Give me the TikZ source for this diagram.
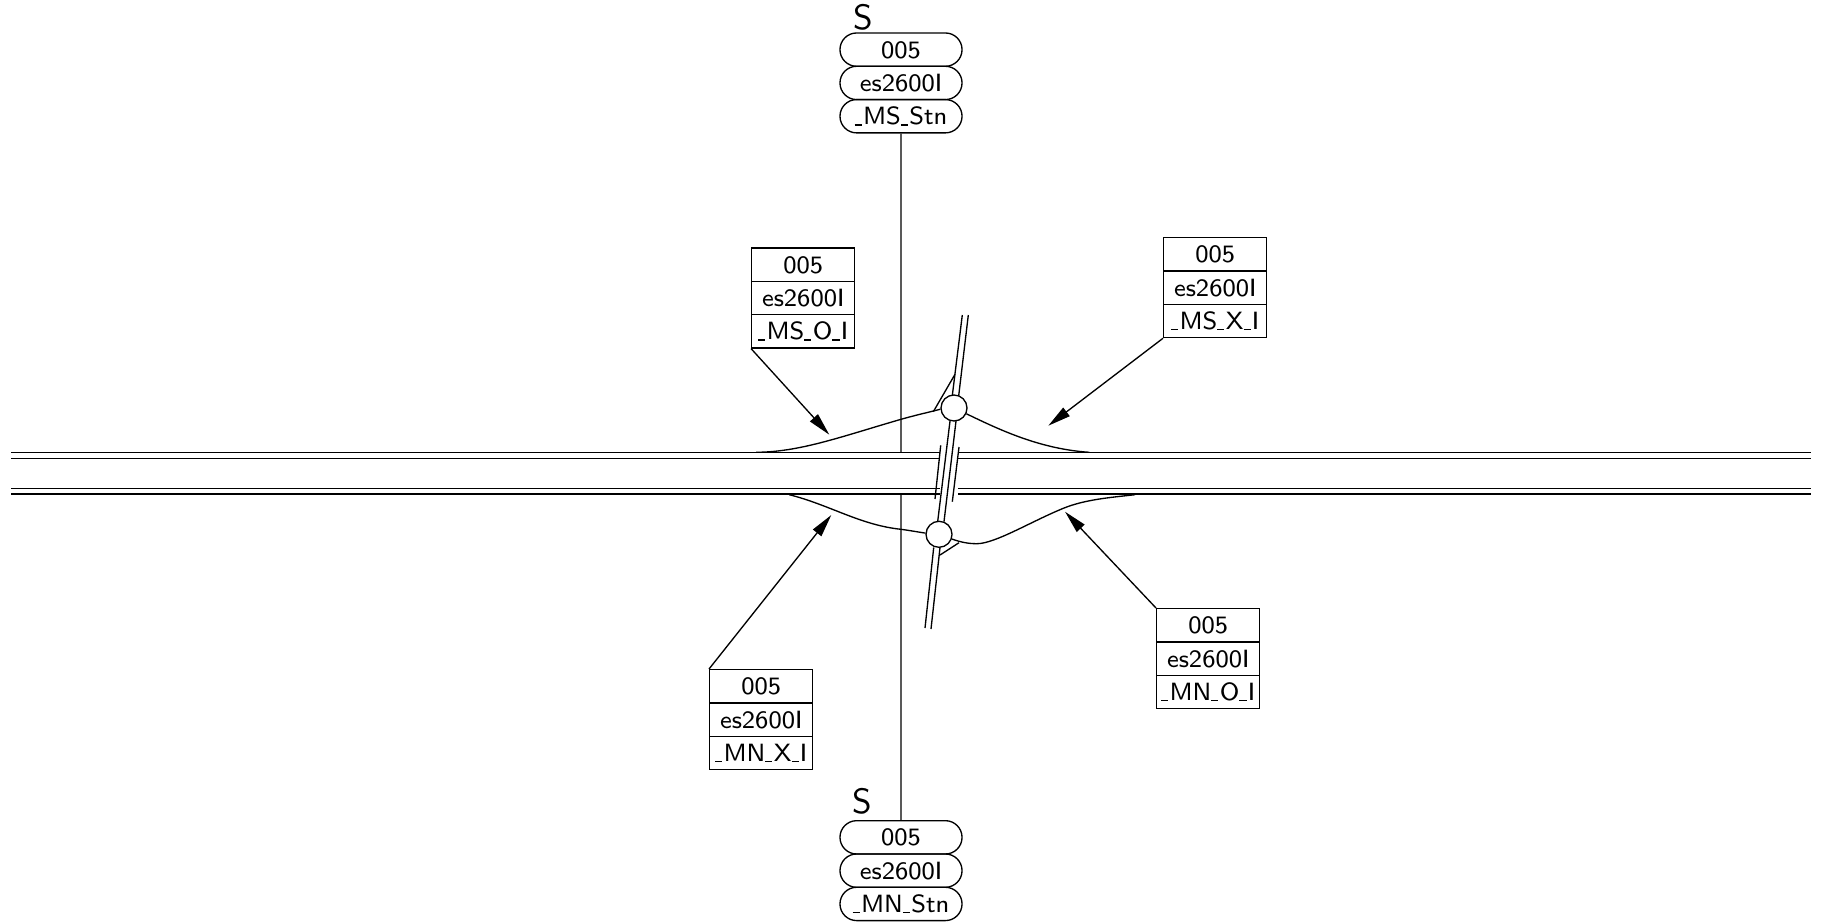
\documentclass[tikz,border=0pt]{standalone}
\usetikzlibrary{shapes.misc,arrows.meta}
\newcommand{\lowdash}{\rule[-0.25pt]{2pt}{0.3pt}\hspace{0.4pt}}
\tikzset{
    linework/.style={line width=0.38pt},
    cell/.style={draw,linework,minimum width=1.03cm,minimum height=0.333cm,inner sep=0pt,anchor=north,
        text height=4.8pt,text depth=0pt,font=\fontsize{7.1}{8}\sffamily},
    pillcell/.style={cell,rounded rectangle,minimum width=1.22cm},
    leader/.style={linework,-{Triangle[length=6.5pt,width=3pt]}},
    junction/.style={draw,linework,circle,minimum size=0.26cm,inner sep=0pt},
    marker/.style={font=\fontsize{10}{11}\sffamily}
}
\begin{document}
\begin{tikzpicture}[x=0.01cm,y=-0.01cm,linework]
    \useasboundingbox (0,0) rectangle (1822,921);

    % Stations
    \foreach \i/\t in {0/005, 1/es2600I, 2/\lowdash MS\lowdash Stn} \node[pillcell] (stnN\i) at (901,{32.3+33.3*\i}) {\t};
    \foreach \i/\t in {0/005, 1/es2600I, 2/\lowdash MN\lowdash Stn} \node[pillcell] (stnS\i) at (901,{820+33.3*\i}) {\t};
    \node[marker] (markN) at (863,17) {S};
    \node[marker] (markS) at (862,801) {S};

    % Mainline
    \foreach \y in {452.3,458.7,488.3,494} {
        \draw (11,\y) -- (940,\y);
        \draw (958,\y) -- (1811,\y);
    }
    \coordinate (mainN) at (901,452.3);
    \coordinate (mainS) at (901,494);
    \draw (stnN2) -- (mainN);
    \draw (mainS) -- (stnS0);

    % Crossroad
    \node[junction] (circN) at (954,408) {};
    \node[junction] (circS) at (939,534.3) {};
    \draw (962.3,315) -- (952.3,395.4);
    \draw (968.3,315) -- (958.7,395.6);
    \draw (950,421) -- (937.7,521.3);
    \draw (956,421) -- (944,521.6);
    \draw (933.7,547.5) -- (925,628);
    \draw (940,547.5) -- (931,629);
    \draw (940.7,445.3) -- (935,499);
    \draw (959,447) -- (952.3,501.7);

    % Ramps
    \draw (756,452.3) .. controls (800,452) and (840,437) .. (901,419.3) .. controls (918,414.5) and (928,412.5) .. (circN.185);
    \draw (circN.-25) .. controls (1000,430) and (1040,449) .. (1089.3,452.3);
    \draw (789.3,494.7) .. controls (830,505) and (860,525) .. (901,529.3) .. controls (910,530.5) and (918,532) .. (circS.175);
    \draw (circS.-20) .. controls (960,542) and (968,543.7) .. (976.7,543.7) .. controls (995,543.7) and (1030,522) .. (1063.3,508.3) .. controls (1085,499.5) and (1110,497.5) .. (1135,494.7);
    \draw (933.3,411.7) -- (955,374.3);
    \draw (959,542.7) -- (940,555);

    % Callouts
    \foreach \n/\x/\y/\t in {nw/751/247.3/\lowdash MS\lowdash O\lowdash I, ne/1163/237/\lowdash MS\lowdash X\lowdash I, se/1156/608/\lowdash MN\lowdash O\lowdash I, sw/709/669/\lowdash MN\lowdash X\lowdash I} {
        \node[cell,anchor=north west] (\n0) at (\x,\y) {005};
        \node[cell,anchor=north west] (\n1) at (\x,{\y+33.3}) {es2600I};
        \node[cell,anchor=north west] (\n2) at (\x,{\y+66.6}) {\t};
    }
    \coordinate (tipNW) at (829.3,434.7);
    \coordinate (tipNE) at (1048.3,425.7);
    \coordinate (tipSE) at (1065,511.7);
    \coordinate (tipSW) at (831.3,515);
    \draw[leader] (nw2.south west) -- (tipNW);
    \draw[leader] (ne2.south west) -- (tipNE);
    \draw[leader] (se0.north west) -- (tipSE);
    \draw[leader] (sw0.north west) -- (tipSW);
\end{tikzpicture}
\end{document}
